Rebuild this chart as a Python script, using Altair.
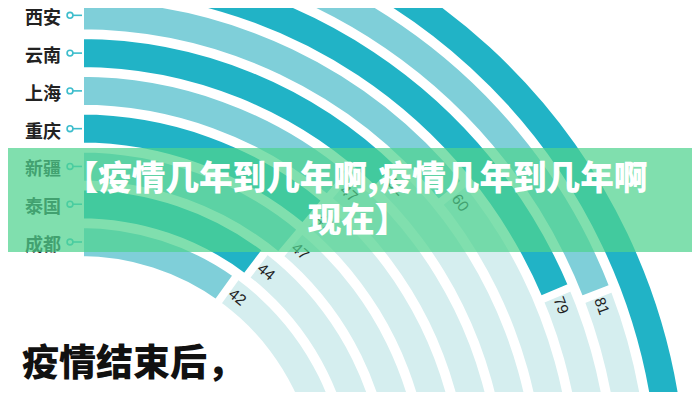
import math
import altair as alt
import pandas as pd

# ---- data (inner ring -> outer ring) ----
cities = ["成都", "泰国", "新疆", "重庆", "上海", "云南", "西安", "", "", ""]
values = [42, 44, 47, 47, 47, 52, 60, 79, 81, 100]
tones = ["light", "dark", "light", "dark", "light", "dark", "light", "dark", "light", "dark"]
ring = list(range(10))

banner_lines = ["【疫情几年到几年啊,疫情几年到几年啊", "现在】"]
headline = "疫情结束后，"

df = pd.DataFrame({"city": cities, "value": values, "tone": tones, "idx": ring})

# ---- layout / style ----
CX, CY = 72, 486          # centre of the rings (chart pixels)
TRACK_END = 200
theta_scale = alt.Scale(type="linear", domain=[0, 100], range=[0, 85 * math.pi / 180], zero=False)
radius_scale = alt.Scale(type="linear", domain=[0, 9], range=[252, 592.2], zero=False)
angle_scale = alt.Scale(type="linear", domain=[0, 100], range=[0, 85], zero=False)
y_scale = alt.Scale(type="linear", domain=[0, 9], range=[234, -106], zero=False)

DARK = "#21b3c6"
LIGHT = "#7fcfd9"
TRACK = "#d5eeef"

base = alt.Chart(df)

track = base.transform_calculate(
    t0="0", t1=str(TRACK_END), r0="datum.idx - 0.37", r1="datum.idx + 0.37"
).mark_arc(color=TRACK, clip=True).encode(
    x=alt.value(CX), y=alt.value(CY),
    theta=alt.Theta("t0:Q", scale=theta_scale, stack=None),
    theta2="t1:Q",
    radius=alt.Radius("r0:Q", scale=radius_scale),
    radius2="r1:Q",
)

bars = base.transform_calculate(
    t0="0", r0="datum.idx - 0.476", r1="datum.idx + 0.476"
).mark_arc(stroke="white", strokeWidth=8, clip=True).encode(
    x=alt.value(CX), y=alt.value(CY),
    theta=alt.Theta("t0:Q", scale=theta_scale, stack=None),
    theta2="value:Q",
    radius=alt.Radius("r0:Q", scale=radius_scale),
    radius2="r1:Q",
    color=alt.Color("tone:N", scale=alt.Scale(domain=["light", "dark"], range=[LIGHT, DARK]), legend=None),
)

value_labels = base.transform_filter("datum.idx < 9").transform_calculate(
    lab="datum.value + 876 / (252 + 37.8 * datum.idx)"
).mark_text(fontSize=15.5, color="#222222", font="Liberation Sans", align="center", baseline="middle").encode(
    x=alt.value(CX), y=alt.value(CY),
    theta=alt.Theta("lab:Q", scale=theta_scale, stack=None),
    radius=alt.Radius("idx:Q", scale=radius_scale),
    angle=alt.Angle("lab:Q", scale=angle_scale),
    text="value:Q",
)

named = base.transform_filter("datum.city != ''")

city_labels = named.mark_text(
    align="right", baseline="middle", fontSize=18, fontWeight="bold",
    font="Noto Sans CJK SC", color="#222222", dy=4
).encode(
    x=alt.value(53),
    y=alt.Y("idx:Q", scale=y_scale, axis=None),
    text="city:N",
)

ticks = named.mark_rule(color="#3dbdcc", strokeWidth=1.6).encode(
    x=alt.value(65), x2=alt.value(74),
    y=alt.Y("idx:Q", scale=y_scale, axis=None),
)

dots = named.mark_point(shape="circle", filled=True, size=34, fill="white", stroke="#3dbdcc", strokeWidth=1.6, opacity=1).encode(
    x=alt.value(62),
    y=alt.Y("idx:Q", scale=y_scale, axis=None),
)

banner = alt.Chart(pd.DataFrame({"a": [0]})).mark_rect(color="#4fd28f", opacity=0.72).encode(
    x=alt.value(0), x2=alt.value(684), y=alt.value(140), y2=alt.value(244)
)

banner_df = pd.DataFrame({"t": banner_lines, "xpos": [348, 350], "ypos": [172, 214]})
banner_text = alt.Chart(banner_df).mark_text(
    font="Noto Sans CJK SC", fontWeight=900, fontSize=33.6, color="white",
    align="center", baseline="middle"
).encode(
    x=alt.X("xpos:Q", scale=None, axis=None),
    y=alt.Y("ypos:Q", scale=None, axis=None),
    text="t:N",
)

head = alt.Chart(pd.DataFrame({"t": [headline]})).mark_text(
    font="Noto Sans CJK SC", fontWeight=900, fontSize=37, color="#111111",
    align="left", baseline="middle"
).encode(x=alt.value(14), y=alt.value(357), text="t:N")

chart = alt.layer(
    track, bars, value_labels, city_labels, ticks, dots, banner, banner_text, head
).properties(
    width=684, height=384, padding=0,
    autosize=alt.AutoSizeParams(type="none"),
).configure_view(stroke=None)

chart.save("out.html", embed_options={"renderer": "svg", "actions": False})
